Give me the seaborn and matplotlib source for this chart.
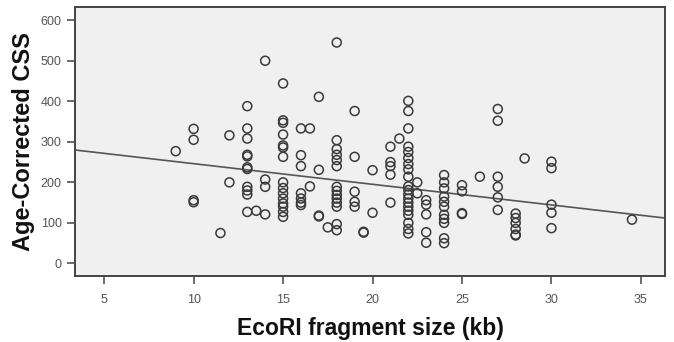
import numpy as np
import pandas as pd
import matplotlib
matplotlib.use("Agg")
import matplotlib.pyplot as plt
import seaborn as sns

# EcoRI fragment size (kb) and age-corrected CSS
fragment_kb = (
    [9]
    + [10] * 4
    + [11.5]
    + [12] * 2
    + [13] * 11
    + [13.5]
    + [14] * 4
    + [15] * 15
    + [16] * 7
    + [16.5] * 2
    + [17] * 4
    + [17.5]
    + [18] * 14
    + [19] * 5
    + [19.5] * 2
    + [20] * 2
    + [21] * 5
    + [21.5]
    + [22] * 20
    + [22.5] * 2
    + [23] * 5
    + [24] * 11
    + [25] * 4
    + [26]
    + [27] * 6
    + [28] * 6
    + [28.5]
    + [30] * 5
    + [34.5]
)
css = [
    277,
    332, 305, 156, 151,
    75,
    316, 200,
    388, 333, 308, 268, 264, 237, 233, 189, 180, 170, 127,
    130,
    500, 207, 189, 121,
    444, 353, 347, 318, 291, 286, 263, 200, 186, 173, 160, 148, 140, 127, 115,
    333, 267, 240, 173, 160, 150, 144,
    333, 190,
    411, 231, 118, 116,
    89,
    545, 304, 282, 268, 255, 240, 189, 179, 169, 160, 150, 140, 97, 82,
    376, 263, 177, 152, 140,
    78, 76,
    230, 125,
    288, 250, 240, 219, 150,
    308,
    401, 376, 333, 288, 275, 260, 245, 232, 214, 190, 181, 170, 160, 150, 140, 130, 120, 100, 85, 74,
    200, 173,
    156, 145, 121, 77, 51,
    218, 200, 185, 165, 152, 140, 120, 110, 100, 62, 50,
    193, 178, 124, 122,
    214,
    381, 352, 214, 189, 163, 132,
    123, 112, 100, 85, 71, 69,
    259,
    251, 235, 145, 125, 87,
    108,
]

# fitted line as drawn in the reference
fit_intercept = 297.0
fit_slope = -5.09

x_ticks = [5, 10, 15, 20, 25, 30, 35]
y_ticks = [0, 100, 200, 300, 400, 500, 600]

df = pd.DataFrame({"size": fragment_kb, "css": css})

sns.set_style("ticks")
plt.rcParams["font.family"] = ["Liberation Sans", "DejaVu Sans"]

fig = plt.figure(figsize=(6.74, 3.42), dpi=100)
ax = fig.add_axes([0.111, 0.193, 0.876, 0.787])
ax.set_facecolor("#f0f0f0")

sns.scatterplot(data=df, x="size", y="css", ax=ax, marker="o", s=42,
                linewidth=1.1, edgecolor="#3a3a3a", legend=False, zorder=3)
ax.collections[0].set_facecolor("none")

xlim = (3.36, 36.36)
line_x = np.array(xlim)
sns.lineplot(x=line_x, y=fit_intercept + fit_slope * line_x, ax=ax,
             color="#555555", linewidth=1.2, zorder=2)

ax.set_xlim(*xlim)
ax.set_ylim(-31, 633)
ax.set_xticks(x_ticks)
ax.set_yticks(y_ticks)

for side in ["left", "right", "top", "bottom"]:
    ax.spines[side].set_visible(True)
    ax.spines[side].set_color("#444444")
    ax.spines[side].set_linewidth(1.4)

ax.tick_params(axis="both", direction="out", length=6, width=1.1,
               color="#444444", labelcolor="#555555", labelsize=9)
ax.tick_params(axis="x", pad=7)

ax.set_xlabel("EcoRI fragment size (kb)", fontsize=16.5, fontweight="bold",
              color="#111111", labelpad=8)
ax.set_ylabel("Age-Corrected CSS", fontsize=17, fontweight="bold",
              color="#111111", labelpad=4)

fig.savefig("out.png", dpi=100, facecolor="white")
